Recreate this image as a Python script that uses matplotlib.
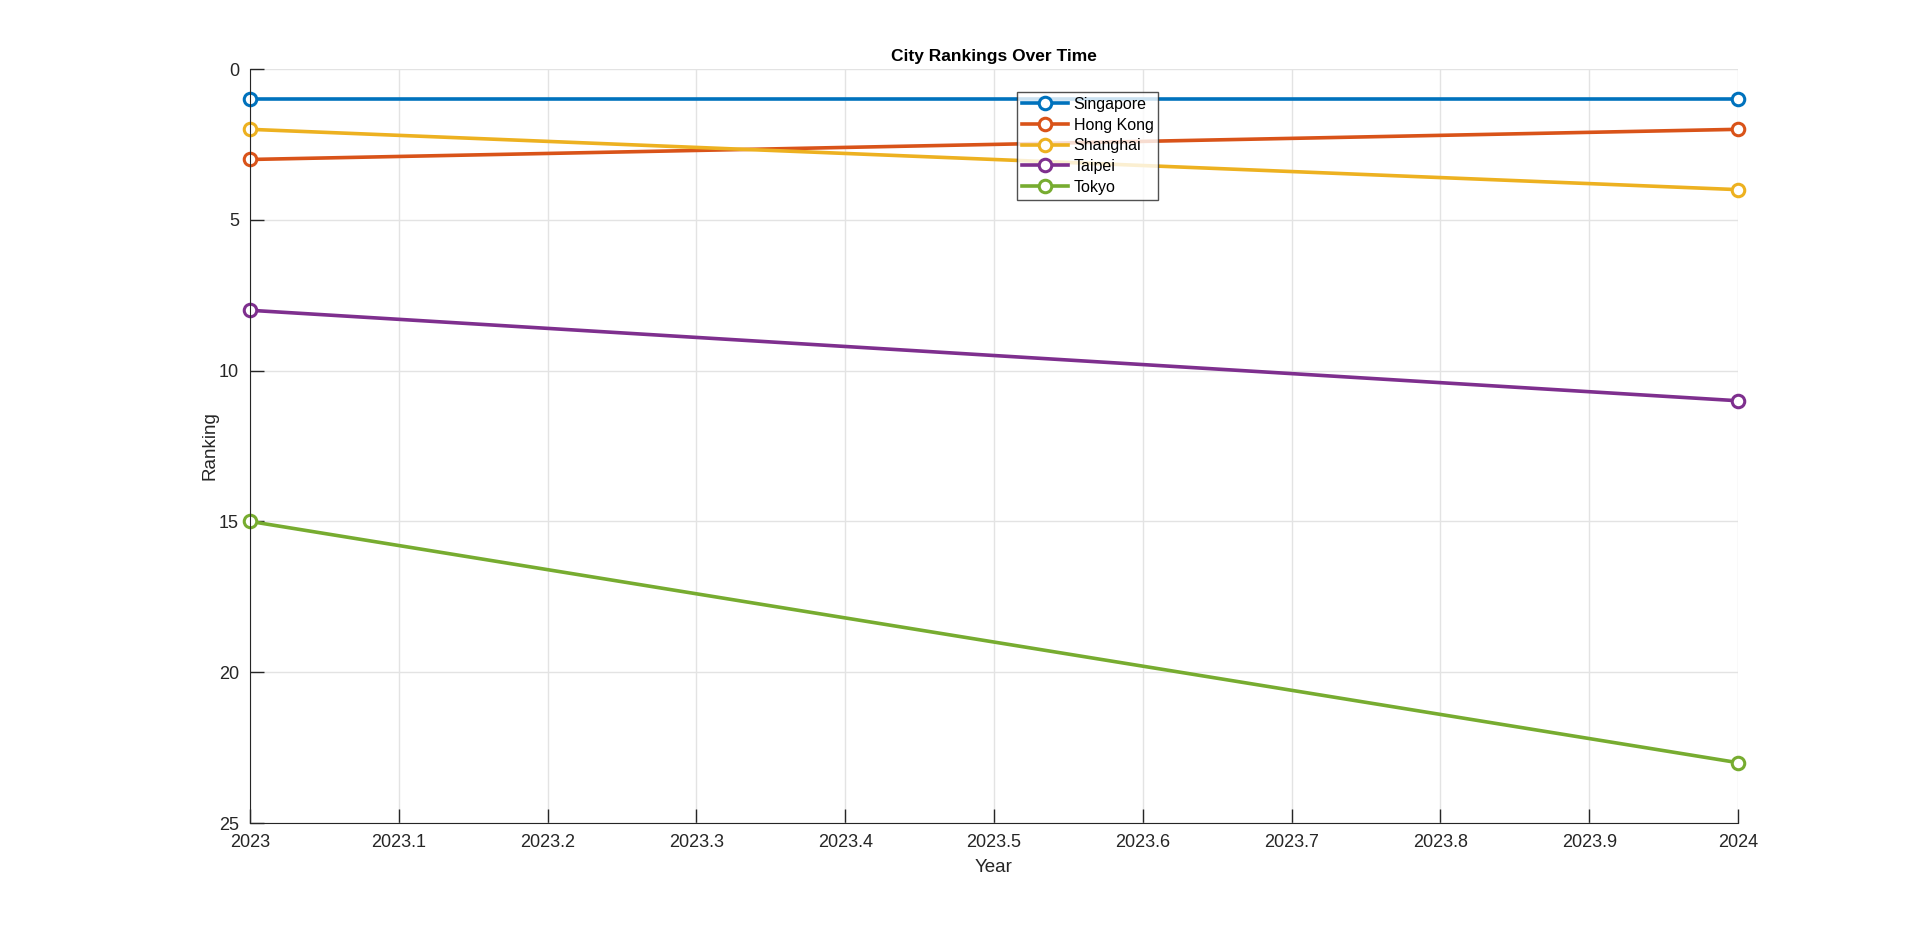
import numpy as np
import matplotlib.pyplot as plt

plt.rcParams['font.family'] = ['Liberation Sans', 'DejaVu Sans']

years = [2023, 2024]
cities = ['Singapore', 'Hong Kong', 'Shanghai', 'Taipei', 'Tokyo']
singapore = [1, 1]
hong_kong = [3, 2]
shanghai = [2, 4]
taipei = [8, 11]
tokyo = [15, 23]
colors = ['#0072BD', '#D95319', '#EDB120', '#7E2F8E', '#77AC30']

fig = plt.figure(figsize=(19.2, 9.26), dpi=100)
ax = fig.add_axes([250 / 1920, 1 - 823 / 926, (1738 - 250) / 1920, (823 - 69) / 926])

for name, vals, c in zip(cities, [singapore, hong_kong, shanghai, taipei, tokyo], colors):
    ax.plot(years, vals, '-o', color=c, linewidth=2.6, markersize=9,
            markerfacecolor='white', markeredgewidth=2.2, label=name, clip_on=False)

ax.set_xlim(2023, 2024)
ax.set_ylim(25, 0)
ax.set_xticks(np.round(np.arange(2023, 2024.01, 0.1), 1))
ax.set_xticklabels(['2023'] + ['2023.%d' % i for i in range(1, 10)] + ['2024'])
ax.set_yticks([0, 5, 10, 15, 20, 25])

ax.grid(True, color='#e3e3e3', linewidth=1)
ax.set_axisbelow(True)
ax.spines['top'].set_visible(False)
ax.spines['right'].set_visible(False)
for s in ['left', 'bottom']:
    ax.spines[s].set_color('#262626')
ax.tick_params(direction='in', length=10, width=1, colors='#262626', labelsize=13,
               labelcolor='#262626', pad=8)

ax.set_title('City Rankings Over Time', fontsize=12.5, fontweight='bold', pad=6)
ax.set_xlabel('Year', fontsize=13.5, color='#262626', labelpad=6)
ax.set_ylabel('Ranking', fontsize=13.5, color='#262626', labelpad=0)

leg = ax.legend(loc='upper left', bbox_to_anchor=((1017 - 250) / 1488, 1 - (92 - 69) / 754),
                fontsize=11.5, frameon=True, fancybox=False, edgecolor='#262626',
                borderaxespad=0, handlelength=2.9, borderpad=0.3, labelspacing=0.36,
                handletextpad=0.35)
leg.get_frame().set_linewidth(1)

fig.savefig('out.png', dpi=100)
